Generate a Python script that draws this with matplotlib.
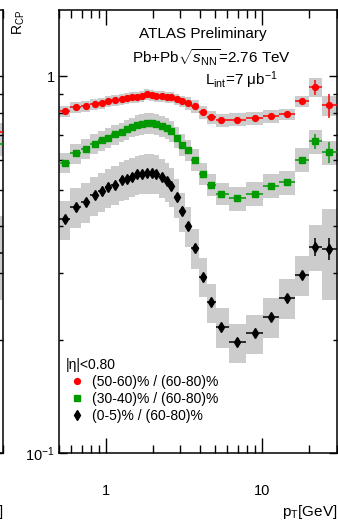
import numpy as np
import matplotlib
matplotlib.use("Agg")
import matplotlib.pyplot as plt
from matplotlib.ticker import NullFormatter

plt.rcParams["font.family"] = ["Liberation Sans", "DejaVu Sans"]
plt.rcParams["mathtext.fontset"] = "custom"
plt.rcParams["mathtext.rm"] = "Liberation Sans"
plt.rcParams["mathtext.it"] = "Liberation Sans:italic"
plt.rcParams["mathtext.sf"] = "Liberation Sans"

# pT bin centres [GeV]
pt = [0.546, 0.642, 0.744, 0.850, 0.943, 1.03, 1.14, 1.27, 1.36, 1.47, 1.58,
      1.70, 1.83, 1.97, 2.09, 2.29, 2.46, 2.61, 2.85, 3.07, 3.35, 3.72, 4.19,
      4.71, 5.46, 6.91, 9.02, 11.4, 14.5, 18.0, 21.9, 26.9]

# (50-60)% / (60-80)%
rcp_50 = [0.807, 0.827, 0.832, 0.842, 0.848, 0.858, 0.863, 0.869, 0.874, 0.879,
          0.879, 0.885, 0.896, 0.890, 0.885, 0.885, 0.879, 0.879, 0.869, 0.858,
          0.848, 0.832, 0.802, 0.778, 0.764, 0.768, 0.773, 0.783, 0.792, 0.858,
          0.935, 0.837]
stat_50 = [0] * 28 + [0.005, 0.012, 0.045, 0.06]
sys_50 = [0.035] * 20 + [0.04] * 8 + [0.035, 0.035, 0.06, 0.06]

# (30-40)% / (60-80)%
rcp_30 = [0.590, 0.624, 0.643, 0.663, 0.676, 0.688, 0.701, 0.710, 0.723, 0.732,
          0.741, 0.745, 0.750, 0.750, 0.745, 0.736, 0.727, 0.714, 0.688, 0.659,
          0.636, 0.601, 0.552, 0.516, 0.488, 0.474, 0.488, 0.513, 0.523, 0.601,
          0.672, 0.628]
stat_30 = [0] * 28 + [0.004, 0.01, 0.03, 0.04]
sys_30 = [0.06] * 10 + [0.065] * 15 + [0.075] * 7

# (0-5)% / (60-80)%
rcp_0 = [0.417, 0.451, 0.465, 0.483, 0.495, 0.507, 0.516, 0.529, 0.535, 0.542,
         0.549, 0.552, 0.555, 0.555, 0.552, 0.539, 0.526, 0.510, 0.477, 0.438,
         0.401, 0.351, 0.294, 0.251, 0.216, 0.197, 0.208, 0.230, 0.258, 0.297,
         0.353, 0.349]
stat_0 = [0] * 28 + [0.003, 0.005, 0.02, 0.024]
sys_0 = [0.12] * 30 + [0.14, 0.27]

# neighbouring panel (only its right edge is visible)
left_pt = [26.9]
left_edges = [24.3, 30.0]
left_50, left_30, left_0 = [0.71], [0.66], [0.34]
left_sys = [0.06, 0.07, 0.25]

labels = ["(50-60)% / (60-80)%", "(30-40)% / (60-80)%", "(0-5)% / (60-80)%"]
colors = ["#ff0000", "#009900", "#000000"]
markers = ["o", "s", "d"]
msizes = [4.2, 4.0, 5.5]

W, H = 338, 523
fig = plt.figure(figsize=(W / 100, H / 100), dpi=100)


def frac(x0, y0, x1, y1):
    return [x0 / W, 1 - y1 / H, (x1 - x0) / W, (y1 - y0) / H]


def style_axes(ax):
    ax.set_xscale("log")
    ax.set_yscale("log")
    ax.set_xlim(0.5, 30)
    ax.set_ylim(0.1, 1.5)
    ax.tick_params(which="both", direction="in", top=True, right=True,
                   width=1.0, labelsize=10.5)
    ax.tick_params(axis="x", which="major", length=10.5, pad=22)
    ax.tick_params(axis="x", which="minor", length=5.8)
    ax.tick_params(axis="y", which="major", length=5.8, pad=3)
    ax.tick_params(axis="y", which="minor", length=3.2)
    ax.xaxis.set_minor_formatter(NullFormatter())
    ax.yaxis.set_minor_formatter(NullFormatter())
    for s in ax.spines.values():
        s.set_linewidth(1.1)


def draw(ax, x, lo, hi, ys, stats, syss):
    x = np.asarray(x)
    for y, s in zip(ys, syss):
        y = np.asarray(y)
        s = np.asarray(s)
        ax.bar(lo, 2 * y * s, width=hi - lo, bottom=y * (1 - s), align="edge",
               color="#cccccc", edgecolor="none", zorder=1)
    handles = []
    for y, st, c, m, ms in zip(ys, stats, colors, markers, msizes):
        h = ax.errorbar(x, y, yerr=st, xerr=[x - lo, hi - x], fmt=m, color=c,
                        ms=ms, elinewidth=1.1, capsize=0, zorder=3)
        handles.append(h)
    return handles


# neighbouring panel
ax0 = fig.add_axes(frac(2.5 - 278, 10, 2.5, 453))
style_axes(ax0)
ax0.set_xticks([1, 10])
ax0.set_xticklabels(["", ""])
ax0.set_yticks([0.1, 1])
ax0.set_yticklabels(["", ""])
lp = np.asarray(left_pt)
draw(ax0, lp, np.asarray(left_edges[:1]), np.asarray(left_edges[1:]),
     [left_50, left_30, left_0], [[0], [0], [0]],
     [[left_sys[0]], [left_sys[1]], [left_sys[2]]])
fig.text(3 / W, 1 - 512 / H, r"p$_{\rm T}$[GeV]", ha="right", va="center",
         fontsize=11)

# main panel
ax = fig.add_axes(frac(59, 10, 336.5, 453))
style_axes(ax)

pt_a = np.asarray(pt)
edges = np.sqrt(pt_a[:-1] * pt_a[1:])
lo = np.concatenate([[0.5], edges])
hi = np.concatenate([edges, [30.0]])

handles = draw(ax, pt_a, lo, hi, [rcp_50, rcp_30, rcp_0],
               [stat_50, stat_30, stat_0], [sys_50, sys_30, sys_0])

ax.set_xticks([1, 10])
ax.set_xticklabels(["1", "10"])
ax.set_yticks([0.1, 1])
ax.set_yticklabels([r"10$^{-1}$", "1"])

fig.text(19 / W, 1 - 22 / H, r"R$_{\rm CP}$", rotation=90, ha="center",
         va="center", fontsize=10)
fig.text(337 / W, 1 - 512 / H, r"p$_{\rm T}$[GeV]", ha="right", va="center",
         fontsize=11)

fig.text(203 / W, 1 - 34 / H, "ATLAS Preliminary", ha="center", va="center",
         fontsize=11)
fig.text(212 / W, 1 - 58 / H, r"Pb+Pb$\sqrt{s_{\rm NN}}$=2.76 TeV",
         ha="center", va="center", fontsize=11)
fig.text(241 / W, 1 - 80 / H, r"L$_{\rm int}$=7 μb$^{-1}$", ha="center",
         va="center", fontsize=11)

leg = ax.legend([h[0] for h in handles], labels, title="|η|<0.80",
                loc="upper left",
                bbox_to_anchor=((66 - 59) / 278, (453 - 358) / 443),
                frameon=False, fontsize=10, title_fontsize=10,
                handlelength=1.6, handletextpad=0.3, labelspacing=0.22,
                borderpad=0, borderaxespad=0)
leg._legend_box.align = "left"

fig.savefig("out.png", dpi=100)
